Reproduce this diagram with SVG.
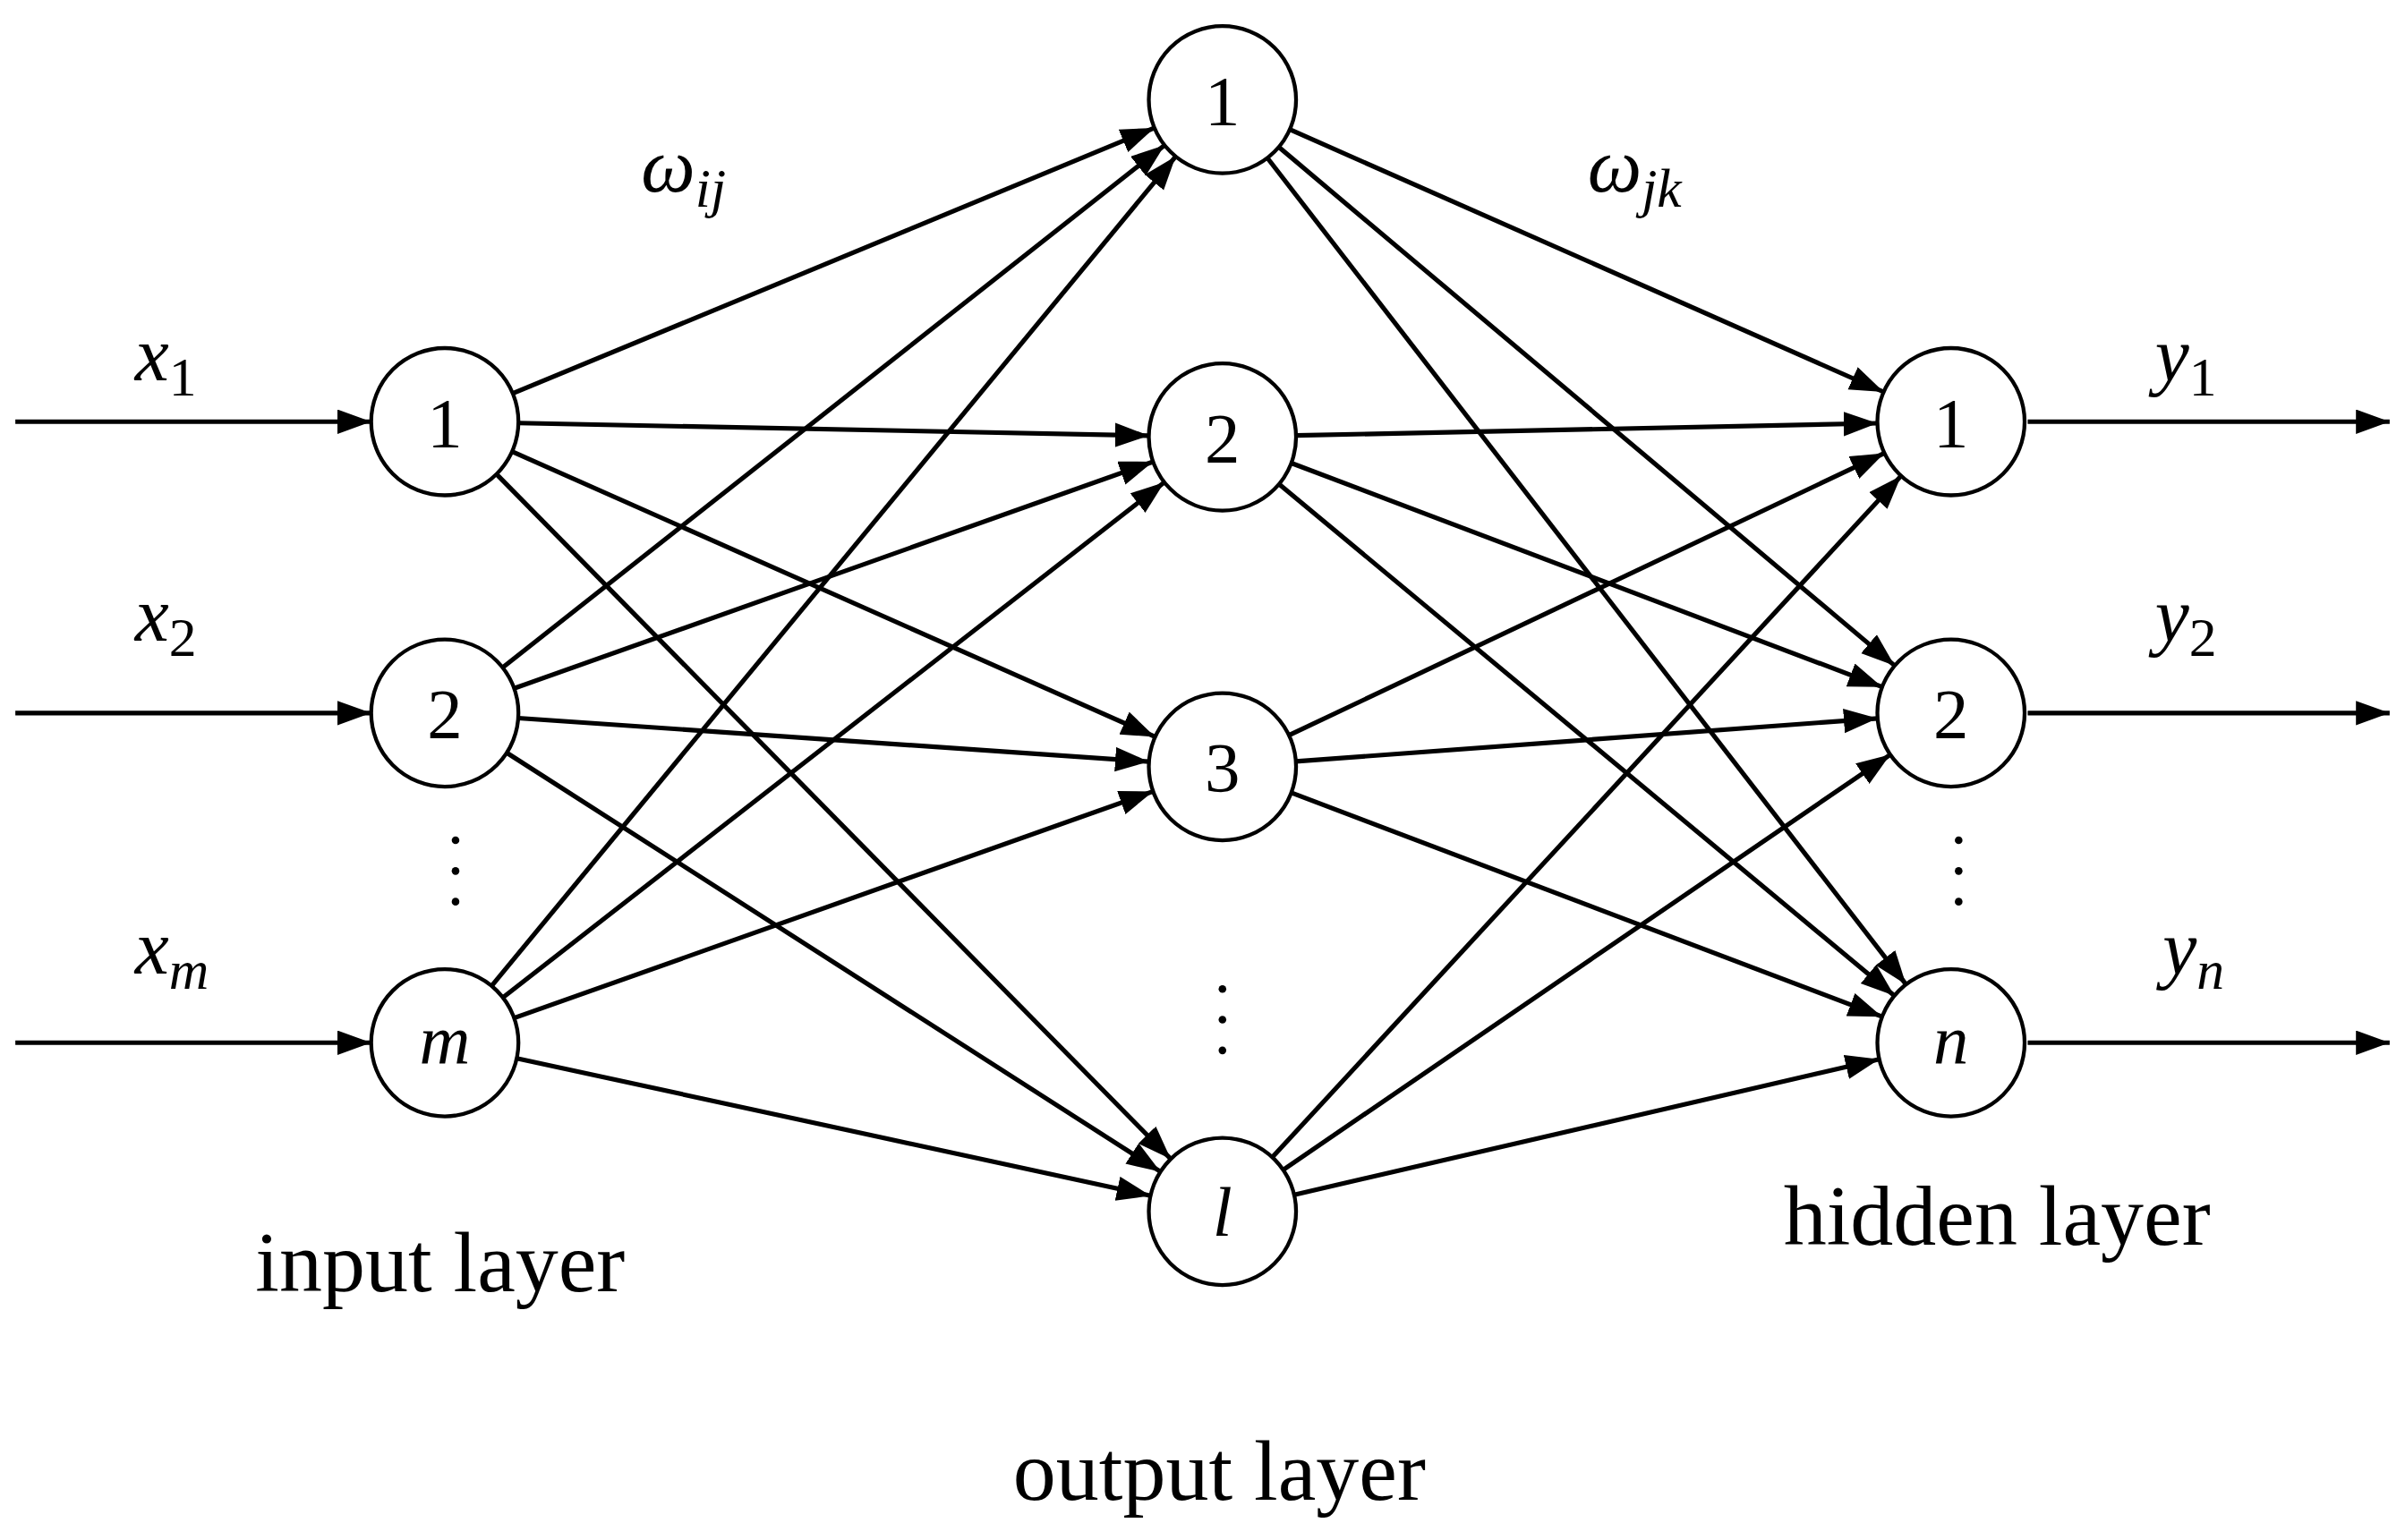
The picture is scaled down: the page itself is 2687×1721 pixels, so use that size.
<svg xmlns="http://www.w3.org/2000/svg" width="2687" height="1721" viewBox="0 0 2687 1721">
<style>
.n{fill:#fff;stroke:#000;stroke-width:2.5}
.e line{stroke:#000;stroke-width:3}
text{font-family:"Liberation Serif",serif;fill:#000}
.t{font-size:46px;text-anchor:middle}
.i{font-style:italic}
.lab{font-size:56px;text-anchor:middle}
.v{font-size:50px;font-style:italic}
.s{font-size:36px;font-style:normal}
.si{font-size:36px;font-style:italic}
</style>
<defs><marker id="a" markerUnits="userSpaceOnUse" markerWidth="24" markerHeight="18" refX="22" refY="8" orient="auto"><path d="M0,0L22,8L0,16z" fill="#000"/></marker></defs>
<rect width="2687" height="1721" fill="#fff"/>
<g transform="scale(1.71365)">
<g id="connectors" class="e" marker-end="url(#a)">
<line x1="10" y1="275" x2="242" y2="275" marker-end="url(#a)"/>
<line x1="10" y1="465" x2="242" y2="465" marker-end="url(#a)"/>
<line x1="10" y1="680" x2="242" y2="680" marker-end="url(#a)"/>
<line x1="1322" y1="275" x2="1558" y2="275" marker-end="url(#a)"/>
<line x1="1322" y1="465" x2="1558" y2="465" marker-end="url(#a)"/>
<line x1="1322" y1="680" x2="1558" y2="680" marker-end="url(#a)"/>
<line x1="334.3" y1="256.6" x2="752.7" y2="83.4" marker-end="url(#a)"/>
<line x1="338" y1="275.9" x2="749" y2="284.1" marker-end="url(#a)"/>
<line x1="333.9" y1="294.5" x2="753.1" y2="480.5" marker-end="url(#a)"/>
<line x1="323.7" y1="309.2" x2="763.3" y2="755.8" marker-end="url(#a)"/>
<line x1="327.7" y1="435.3" x2="759.3" y2="94.7" marker-end="url(#a)"/>
<line x1="335.2" y1="448.9" x2="751.8" y2="301.1" marker-end="url(#a)"/>
<line x1="337.9" y1="468.3" x2="749.1" y2="496.7" marker-end="url(#a)"/>
<line x1="330.4" y1="490.9" x2="756.6" y2="764.1" marker-end="url(#a)"/>
<line x1="320.5" y1="643" x2="766.5" y2="102" marker-end="url(#a)"/>
<line x1="327.9" y1="650.5" x2="759.1" y2="314.5" marker-end="url(#a)"/>
<line x1="335.2" y1="663.9" x2="751.8" y2="516.1" marker-end="url(#a)"/>
<line x1="336.9" y1="690.2" x2="750.1" y2="779.8" marker-end="url(#a)"/>
<line x1="840.9" y1="84.4" x2="1228.1" y2="255.6" marker-end="url(#a)"/>
<line x1="833.7" y1="95.9" x2="1235.3" y2="434.1" marker-end="url(#a)"/>
<line x1="826.3" y1="103" x2="1242.7" y2="642" marker-end="url(#a)"/>
<line x1="845" y1="284" x2="1224" y2="276" marker-end="url(#a)"/>
<line x1="841.9" y1="302" x2="1227.1" y2="448" marker-end="url(#a)"/>
<line x1="833.9" y1="315.7" x2="1235.1" y2="649.3" marker-end="url(#a)"/>
<line x1="840.4" y1="479.5" x2="1228.6" y2="295.5" marker-end="url(#a)"/>
<line x1="844.9" y1="496.5" x2="1224.1" y2="468.5" marker-end="url(#a)"/>
<line x1="841.9" y1="517" x2="1227.1" y2="663" marker-end="url(#a)"/>
<line x1="829.5" y1="754.7" x2="1239.5" y2="310.3" marker-end="url(#a)"/>
<line x1="836.6" y1="762.9" x2="1232.4" y2="492.1" marker-end="url(#a)"/>
<line x1="843.8" y1="779.2" x2="1225.2" y2="690.8" marker-end="url(#a)"/>
</g>
<g id="in1"><circle class="n" cx="290" cy="275" r="48"/><text class="t" x="290" y="291">1</text></g>
<g id="in2"><circle class="n" cx="290" cy="465" r="48"/><text class="t" x="290" y="481">2</text></g>
<g id="inm"><circle class="n" cx="290" cy="680" r="48"/><text class="t i" x="290" y="694">m</text></g>
<g id="h1"><circle class="n" cx="797" cy="65" r="48"/><text class="t" x="797" y="81">1</text></g>
<g id="h2"><circle class="n" cx="797" cy="285" r="48"/><text class="t" x="797" y="301">2</text></g>
<g id="h3"><circle class="n" cx="797" cy="500" r="48"/><text class="t" x="797" y="516">3</text></g>
<g id="hl"><circle class="n" cx="797" cy="790" r="48"/><text class="t i" x="797" y="806">l</text></g>
<g id="o1"><circle class="n" cx="1272" cy="275" r="48"/><text class="t" x="1272" y="291">1</text></g>
<g id="o2"><circle class="n" cx="1272" cy="465" r="48"/><text class="t" x="1272" y="481">2</text></g>
<g id="on"><circle class="n" cx="1272" cy="680" r="48"/><text class="t i" x="1272" y="694">n</text></g>
<g id="dots" fill="#000">
<circle cx="297" cy="548" r="2.5"/><circle cx="297" cy="568" r="2.5"/><circle cx="297" cy="588" r="2.5"/>
<circle cx="797" cy="645" r="2.5"/><circle cx="797" cy="665" r="2.5"/><circle cx="797" cy="685" r="2.5"/>
<circle cx="1277" cy="548" r="2.5"/><circle cx="1277" cy="568" r="2.5"/><circle cx="1277" cy="588" r="2.5"/>
</g>
<g id="labels">
<text class="v" x="88" y="248">x<tspan class="s" dy="10">1</tspan></text>
<text class="v" x="88" y="418">x<tspan class="s" dy="10">2</tspan></text>
<text class="v" x="88" y="635">x<tspan class="si" dy="10">m</tspan></text>
<text class="v" x="1405" y="248">y<tspan class="s" dy="10">1</tspan></text>
<text class="v" x="1405" y="418">y<tspan class="s" dy="10">2</tspan></text>
<text class="v" x="1410" y="635">y<tspan class="si" dy="10">n</tspan></text>
<text class="v" x="418" y="125">ω<tspan class="si" dy="10">ij</tspan></text>
<text class="v" x="1035" y="125">ω<tspan class="si" dy="10">jk</tspan></text>
<text class="lab" x="287" y="842">input layer</text>
<text class="lab" x="1302" y="812">hidden layer</text>
<text class="lab" x="795" y="978">output layer</text>
</g>
</g>
</svg>
